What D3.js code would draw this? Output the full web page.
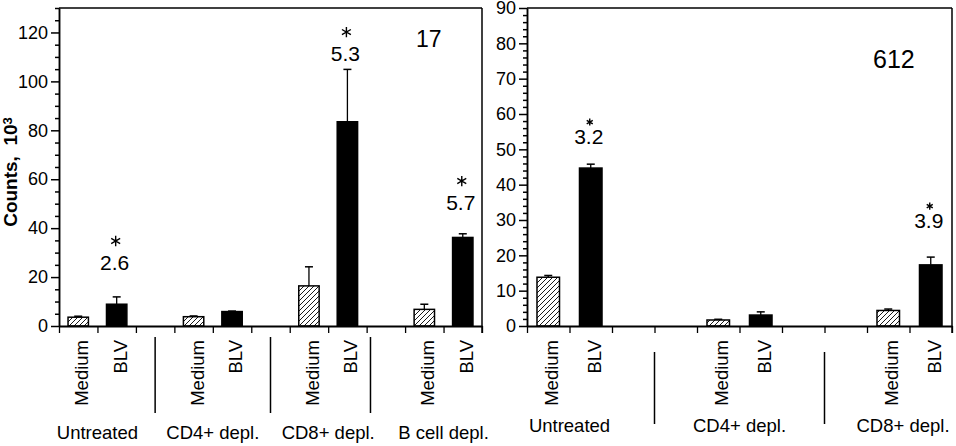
<!DOCTYPE html>
<html>
<head>
<meta charset="utf-8">
<script src="https://cdn.jsdelivr.net/npm/d3@7"></script>
<style>
  body { margin: 0; background: #fff; }
  svg { display: block; font-family: "Liberation Sans", Arial, sans-serif; }
  .axis path, .axis line { stroke: #000; }
  .axis text { font-size: 18px; fill: #000; }
</style>
</head>
<body>
<svg width="956" height="446"></svg>
<script>
// ---- data, left panel (animal 17) ----
const leftGroups = ["Untreated", "CD4+ depl.", "CD8+ depl.", "B cell depl."];
const leftMedium = [3.6, 3.8, 16.4, 6.8];
const leftMediumErr = [0.4, 0.3, 7.8, 2.1];
const leftBLV = [8.9, 5.9, 83.5, 36.2];
const leftBLVErr = [3.0, 0.2, 21.4, 1.5];
const leftStim = ["2.6", null, "5.3", "5.7"];
const leftStimAt = [22.9, null, 108.3, 47.4];   // label baseline, in counts
const leftTicks = [0, 20, 40, 60, 80, 100, 120];
const leftSeps = [2.5, 5.5, 8.1];               // in slot units

// ---- data, right panel (animal 612) ----
const rightGroups = ["Untreated", "CD4+ depl.", "CD8+ depl."];
const rightMedium = [13.8, 1.7, 4.4];
const rightMediumErr = [0.5, 0.2, 0.4];
const rightBLV = [44.7, 3.1, 17.3];
const rightBLVErr = [1.1, 0.9, 2.2];
const rightStim = ["3.2", null, "3.9"];
const rightStimAt = [51.5, null, 27.7];
const rightTicks = [0, 10, 20, 30, 40, 50, 60, 70, 80, 90];
const rightSeps = [3, 7];

const svg = d3.select('svg');
const yTop = 8, base = 326;

// hatch for the medium bars
svg.append('defs').append('pattern')
    .attr('id', 'hatch')
    .attr('patternUnits', 'userSpaceOnUse')
    .attr('width', 5).attr('height', 5)
  .append('path')
    .attr('d', 'M-1,1 l2,-2 M0,5 l5,-5 M4,6 l2,-2')
    .attr('stroke', '#000')
    .attr('stroke-width', 0.9);

const panels = [
    { groups: leftGroups, medium: leftMedium, mediumErr: leftMediumErr,
      blv: leftBLV, blvErr: leftBLVErr, stim: leftStim, stimAt: leftStimAt,
      ticks: leftTicks, minorStep: 5, yMax: 130, seps: leftSeps,
      x0: 59, x1: 482, perGroup: 3, nSlots: 11,
      groupY: 439, sepY: [337, 413], starGap: 29, starSize: 75,
      id: "17", idX: 416, idY: 47, idSize: 23 },
    { groups: rightGroups, medium: rightMedium, mediumErr: rightMediumErr,
      blv: rightBLV, blvErr: rightBLVErr, stim: rightStim, stimAt: rightStimAt,
      ticks: rightTicks, minorStep: 2, yMax: 90, seps: rightSeps,
      x0: 527, x1: 952, perGroup: 4, nSlots: 10,
      groupY: 432, sepY: [352, 424], starGap: 22, starSize: 34,
      id: "612", idX: 873, idY: 68, idSize: 25 }
];

const drawPanel = (p) => {
    const g = svg.append('g');

    const y = d3.scaleLinear().domain([0, p.yMax]).range([base, yTop]);
    const slot = d3.scaleLinear().domain([0, p.nSlots]).range([p.x0, p.x1]);
    const bw = (slot(1) - slot(0)) * 0.53;

    // frame: top and right lines
    g.append('line').attr('x1', p.x0).attr('x2', p.x1).attr('y1', yTop).attr('y2', yTop)
        .attr('stroke', '#000').attr('stroke-width', 1.3);
    g.append('line').attr('x1', p.x1).attr('x2', p.x1).attr('y1', yTop).attr('y2', base + 7)
        .attr('stroke', '#000').attr('stroke-width', 1.5);

    // y axis, majors and minors
    const minors = d3.range(0, p.yMax + 0.001, p.minorStep).filter(v => !p.ticks.includes(v));
    g.append('g').attr('class', 'axis')
        .attr('transform', `translate(${p.x0},0)`)
        .call(d3.axisLeft(y).tickValues(minors).tickSize(4).tickSizeOuter(0).tickFormat(''))
        .call(a => a.selectAll('path, line').attr('stroke-width', 1.5));
    g.append('g').attr('class', 'axis')
        .attr('transform', `translate(${p.x0},0)`)
        .call(d3.axisLeft(y).tickValues(p.ticks).tickSize(8).tickSizeOuter(0).tickPadding(3))
        .call(a => a.selectAll('path, line').attr('stroke-width', 1.5));

    // x axis: slot ticks under the baseline
    g.append('g').attr('class', 'axis')
        .attr('transform', `translate(0,${base})`)
        .call(d3.axisBottom(slot).tickValues(d3.range(0, p.nSlots + 1)).tickSize(7).tickSizeOuter(0).tickFormat(''))
        .call(a => a.select('.domain').attr('stroke-width', 2))
        .call(a => a.selectAll('line').attr('stroke-width', 1.3));

    // bar records
    const bars = [];
    p.groups.forEach((grp, i) => {
        bars.push({ kind: 'Medium', v: p.medium[i], e: p.mediumErr[i], s: i * p.perGroup });
        bars.push({ kind: 'BLV', v: p.blv[i], e: p.blvErr[i], s: i * p.perGroup + 1 });
    });
    const cx = d => (slot(d.s) + slot(d.s + 1)) / 2;

    // error bars (upper only)
    const eb = g.append('g').selectAll('g').data(bars).enter().append('g');
    eb.append('line')
        .attr('x1', cx).attr('x2', cx)
        .attr('y1', d => y(d.v)).attr('y2', d => y(d.v + d.e))
        .attr('stroke', '#000').attr('stroke-width', 1.3);
    eb.append('line')
        .attr('x1', d => cx(d) - 4).attr('x2', d => cx(d) + 4)
        .attr('y1', d => y(d.v + d.e)).attr('y2', d => y(d.v + d.e))
        .attr('stroke', '#000').attr('stroke-width', 1.5);

    g.append('g').selectAll('rect').data(bars).enter().append('rect')
        .attr('x', d => cx(d) - bw / 2)
        .attr('y', d => y(d.v))
        .attr('width', bw)
        .attr('height', d => base - y(d.v))
        .attr('fill', d => d.kind === 'BLV' ? '#000' : 'url(#hatch)')
        .attr('stroke', '#000')
        .attr('stroke-width', 1.5);

    // rotated bar labels
    g.append('g').selectAll('text').data(bars).enter().append('text')
        .attr('transform', d => `translate(${cx(d) + 10},340) rotate(-90)`)
        .attr('text-anchor', 'end')
        .attr('font-size', 18.5)
        .text(d => d.kind);

    // group labels
    g.append('g').selectAll('text').data(p.groups).enter().append('text')
        .attr('x', (d, i) => {
            const mid = slot(i * p.perGroup + 1);
            return Math.min(mid, 955 - 52);
        })
        .attr('y', p.groupY)
        .attr('text-anchor', 'middle')
        .attr('font-size', 18.5)
        .text(d => d);

    // group separators
    g.append('g').selectAll('line').data(p.seps).enter().append('line')
        .attr('x1', d => slot(d)).attr('x2', d => slot(d))
        .attr('y1', p.sepY[0]).attr('y2', p.sepY[1])
        .attr('stroke', '#000').attr('stroke-width', 1.5);

    // stimulation indices with asterisks
    const st = p.groups.map((grp, i) => ({ t: p.stim[i], at: p.stimAt[i], s: i * p.perGroup + 1 }))
        .filter(d => d.t);
    const sg = g.append('g').selectAll('g').data(st).enter().append('g');
    sg.append('text')
        .attr('x', d => cx(d) - 2)
        .attr('y', d => y(d.at))
        .attr('text-anchor', 'middle')
        .attr('font-size', 21)
        .text(d => d.t);
    sg.append('path')
        .attr('transform', d => `translate(${cx(d) - 1},${y(d.at) - p.starGap})`)
        .attr('d', d3.symbol().type(d3.symbolAsterisk).size(p.starSize))
        .attr('fill', 'none')
        .attr('stroke', '#000')
        .attr('stroke-width', 1.4);

    // animal id
    g.append('text')
        .attr('x', p.idX).attr('y', p.idY)
        .attr('font-size', p.idSize)
        .text(p.id);
};

panels.forEach(drawPanel);

// y axis title
svg.append('text')
    .attr('transform', 'translate(17,172) rotate(-90)')
    .attr('text-anchor', 'middle')
    .attr('font-size', 19)
    .attr('font-weight', 'bold')
    .text('Counts,\u00a0\u00a010')
  .append('tspan')
    .attr('dy', '-0.35em')
    .attr('font-size', 13)
    .text('3');
</script>
</body>
</html>
